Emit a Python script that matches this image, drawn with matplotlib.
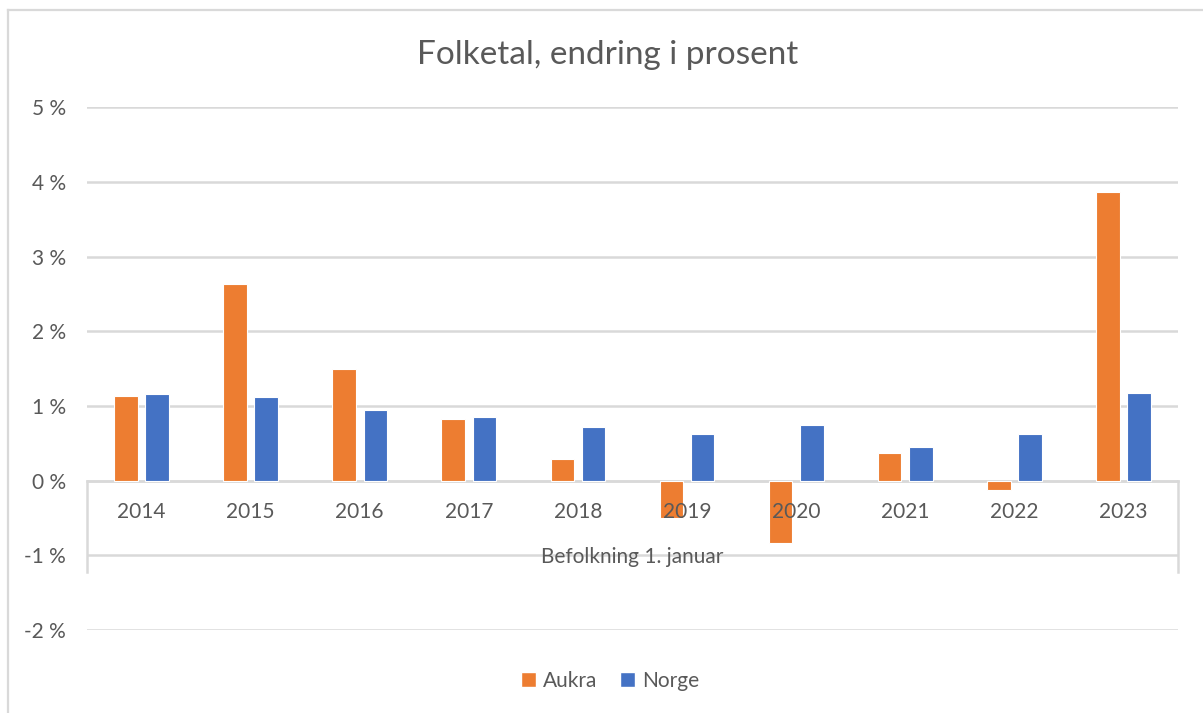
import matplotlib.pyplot as plt
import matplotlib.transforms as mtransforms
from matplotlib.lines import Line2D
from matplotlib.patches import Patch
import numpy as np

# Data (percent change per year)
YEARS = ["2014", "2015", "2016", "2017", "2018", "2019", "2020", "2021", "2022", "2023"]
AUKRA = [1.14, 2.64, 1.50, 0.82, 0.29, -0.50, -0.83, 0.37, -0.12, 3.86]
NORGE = [1.16, 1.12, 0.94, 0.85, 0.72, 0.62, 0.74, 0.45, 0.63, 1.17]
SERIES_NAMES = ["Aukra", "Norge"]
Y_TICKS = [-2, -1, 0, 1, 2, 3, 4, 5]

TITLE = "Folketal, endring i prosent"
AXIS_TITLE = "Befolkning 1. januar"

# Style
ORANGE = "#ED7D31"
BLUE = "#4472C4"
GRID = "#D9D9D9"
TEXT = "#595959"
FONT = ["Lato", "DejaVu Sans"]
FS = 15

plt.rcParams["font.family"] = FONT

W, H, DPI = 1203, 713, 100
fig = plt.figure(figsize=(W / DPI, H / DPI), dpi=DPI)


def px(x, y):
    """Pixel (from top-left) to figure fraction."""
    return x / W, 1 - y / H


# chart area border (left and top only, as in the reference)
fig.add_artist(Line2D([8 / W, 8 / W], [0, 1 - 10 / H], color=GRID, lw=1.6,
                      transform=fig.transFigure))
fig.add_artist(Line2D([8 / W, 1], [1 - 10 / H, 1 - 10 / H], color=GRID, lw=1.6,
                      transform=fig.transFigure))

left, top = px(87, 107.3)
right, bottom = px(1178, 630)
ax = fig.add_axes([left, bottom, right - left, top - bottom])

x = np.arange(len(YEARS))
width = 0.216
offset = 0.143
ax.bar(x - offset, AUKRA, width, color=ORANGE, edgecolor="white", linewidth=0.8, zorder=3)
ax.bar(x + offset, NORGE, width, color=BLUE, edgecolor="white", linewidth=0.8, zorder=3)

ax.set_xlim(-0.5, len(YEARS) - 0.5)
ax.set_ylim(Y_TICKS[0], Y_TICKS[-1])
ax.set_yticks(Y_TICKS)
ax.set_yticklabels([f"{v} %" for v in Y_TICKS])
ax.tick_params(axis="y", length=0, pad=15, labelsize=FS, labelcolor=TEXT)
ax.set_xticks([])
ax.grid(axis="y", color=GRID, lw=1.8, zorder=0)
for s in ax.spines.values():
    s.set_visible(False)

# category axis: line at zero with group brackets at both ends
ax.plot([-0.5, len(YEARS) - 0.5], [0, 0], color=GRID, lw=1.8, zorder=2, clip_on=False)
for xe in (-0.5, len(YEARS) - 0.5):
    ax.plot([xe, xe], [0, -1.22], color=GRID, lw=1.8, zorder=2, clip_on=False)

for i, lab in enumerate(YEARS):
    ax.annotate(lab, xy=(i, 0), xytext=(0, -31), textcoords="offset pixels",
                ha="center", va="center", fontsize=FS, color=TEXT, zorder=4)

trans = mtransforms.blended_transform_factory(ax.transAxes, ax.transData)
ax.annotate(AXIS_TITLE, xy=(0.5, 0), xycoords=trans, xytext=(0, -76),
            textcoords="offset pixels", ha="center", va="center",
            fontsize=FS, color=TEXT)

fig.text(*px(608, 55), TITLE, ha="center", va="center", fontsize=24, color=TEXT)

handles = [Patch(facecolor=ORANGE, edgecolor="white"), Patch(facecolor=BLUE, edgecolor="white")]
fig.legend(handles, SERIES_NAMES, loc="center", bbox_to_anchor=px(610, 681), ncol=2,
           frameon=False, fontsize=FS, labelcolor=TEXT, handlelength=0.7,
           handleheight=0.7, handletextpad=0.35, columnspacing=1.1)

fig.savefig("out.png", dpi=DPI)
